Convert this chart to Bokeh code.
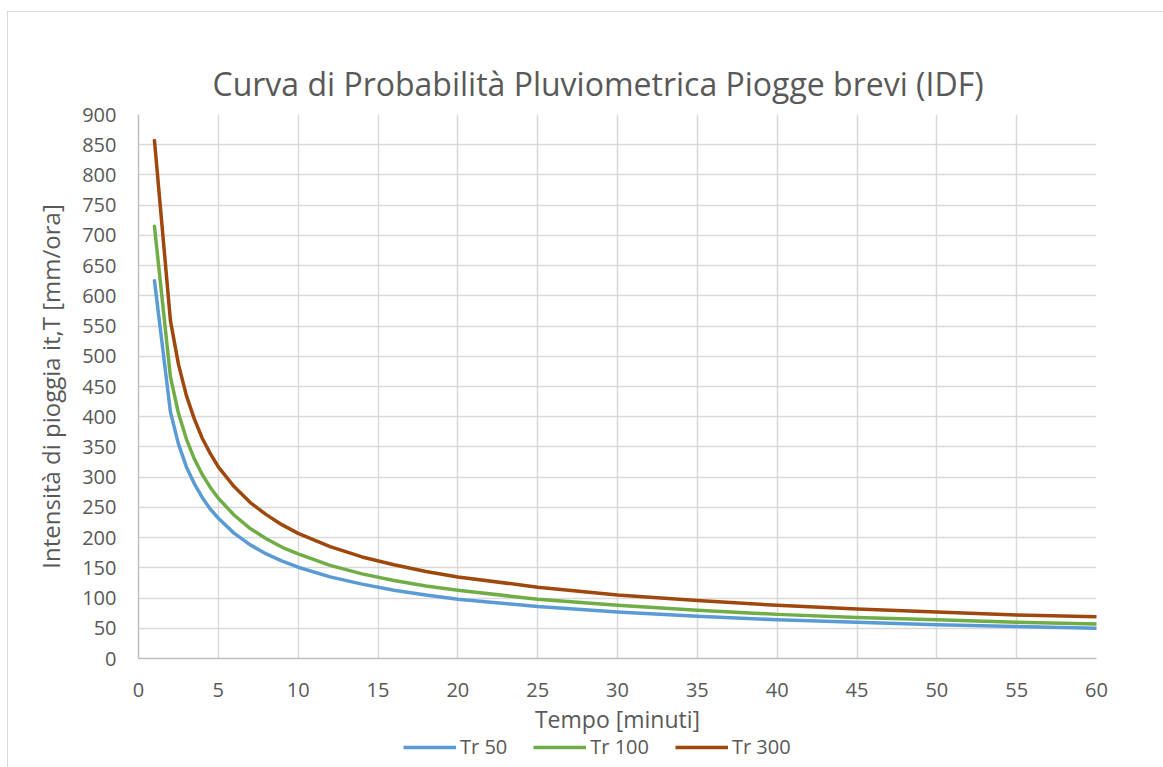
from bokeh.plotting import figure
from bokeh.layouts import column
from bokeh.models import Range1d, FixedTicker, Legend, LegendItem
from bokeh.embed import file_html
from bokeh.resources import INLINE

# Durations [minutes]
tempo = [1, 2, 2.5, 3, 3.5, 4, 4.5, 5, 6, 7, 8, 9, 10, 12, 14, 16, 18, 20,
         25, 30, 35, 40, 45, 50, 55, 60]
# Rain intensity [mm/ora] per return period
tr50 = [625, 408, 355, 317, 289, 266, 247, 232, 207, 188, 173, 161, 151, 135,
        123, 113, 105, 98, 86, 77, 70, 64, 60, 56, 53, 50]
tr100 = [715, 466, 406, 363, 330, 304, 283, 265, 237, 215, 198, 184, 173, 154,
         140, 129, 120, 113, 98, 88, 80, 73, 68, 64, 60, 57]
tr300 = [857, 559, 487, 435, 396, 364, 339, 317, 284, 258, 238, 221, 207, 185,
         168, 155, 144, 135, 118, 105, 96, 88, 82, 77, 72, 69]

x_ticks = [0, 5, 10, 15, 20, 25, 30, 35, 40, 45, 50, 55, 60]
y_ticks = [0, 50, 100, 150, 200, 250, 300, 350, 400, 450, 500, 550, 600, 650,
           700, 750, 800, 850, 900]

series_names = ["Tr 50", "Tr 100", "Tr 300"]
colors = ["#5B9BD5", "#70AD47", "#9E480E"]

FONT = "Open Sans"
TXT = "#595959"
BORDER = "1px solid #D9D9D9"

p = figure(frame_width=957, frame_height=543, output_backend="svg", toolbar_location=None,
           x_range=Range1d(0, 60), y_range=Range1d(0, 900),
           min_border_left=130, min_border_right=68, min_border_top=102,
           min_border_bottom=78, margin=(11, 0, 0, 7),
           title="Curva di Probabilità Pluviometrica Piogge brevi (IDF)")
p.styles = {"border-top": BORDER, "border-left": BORDER}

p.title.align = "left"
p.title.offset = 74
p.title.text_font = FONT
p.title.text_font_size = "32px"
p.title.text_font_style = "normal"
p.title.text_color = TXT
p.title.standoff = 20

p.outline_line_color = None
p.background_fill_color = "white"
p.border_fill_color = "white"

p.xaxis.ticker = FixedTicker(ticks=x_ticks)
p.yaxis.ticker = FixedTicker(ticks=y_ticks)
for ax in (p.xaxis, p.yaxis):
    ax.axis_line_color = "#BFBFBF"
    ax.axis_line_width = 1.5
    ax.major_tick_line_color = None
    ax.minor_tick_line_color = None
    ax.major_tick_out = 0
    ax.major_tick_in = 0
    ax.major_label_text_font = FONT
    ax.major_label_text_font_size = "20px"
    ax.major_label_text_color = TXT
    ax.axis_label_text_font = FONT
    ax.axis_label_text_font_size = "23px"
    ax.axis_label_text_font_style = "normal"
    ax.axis_label_text_color = TXT

p.xaxis.axis_label = "Tempo [minuti]"
p.yaxis.axis_label = "Intensità di pioggia it,T [mm/ora]"
p.yaxis.axis_label_text_font_size = "24px"
p.xaxis.major_label_standoff = 24
p.yaxis.major_label_standoff = 22
p.xaxis.axis_label_standoff = 3
p.yaxis.axis_label_standoff = 12

p.xgrid.grid_line_color = "#D9D9D9"
p.ygrid.grid_line_color = "#D9D9D9"
p.xgrid.grid_line_width = 1.5
p.ygrid.grid_line_width = 1.5

for ys, c in zip([tr50, tr100, tr300], colors):
    p.line(tempo, ys, line_color=c, line_width=3.5, line_join="round", line_cap="round")

# Legend strip under the chart (same series styles; proxy lines lie outside its view)
lg = figure(width=1155, height=32, output_backend="svg", toolbar_location=None,
            x_range=Range1d(0, 1), y_range=Range1d(0, 1),
            x_axis_type=None, y_axis_type=None, min_border=0,
            margin=(0, 0, 0, 7))
lg.styles = {"border-left": BORDER}
lg.outline_line_color = None
lg.grid.visible = False
lg_renderers = [lg.line(x=[0, 1], y=[-5, -5], line_color=c, line_width=3.5) for c in colors]

legend = Legend(items=[LegendItem(label=n, renderers=[r]) for n, r in zip(series_names, lg_renderers)],
                orientation="horizontal", location=(265, 8),
                glyph_width=53, glyph_height=20, label_standoff=4, spacing=26,
                padding=0, margin=0, border_line_color=None,
                background_fill_alpha=0,
                label_text_font=FONT, label_text_font_size="20px",
                label_text_color=TXT)
lg.add_layout(legend, "center")

open("out.html", "w").write(file_html(column(p, lg, spacing=0), INLINE))
